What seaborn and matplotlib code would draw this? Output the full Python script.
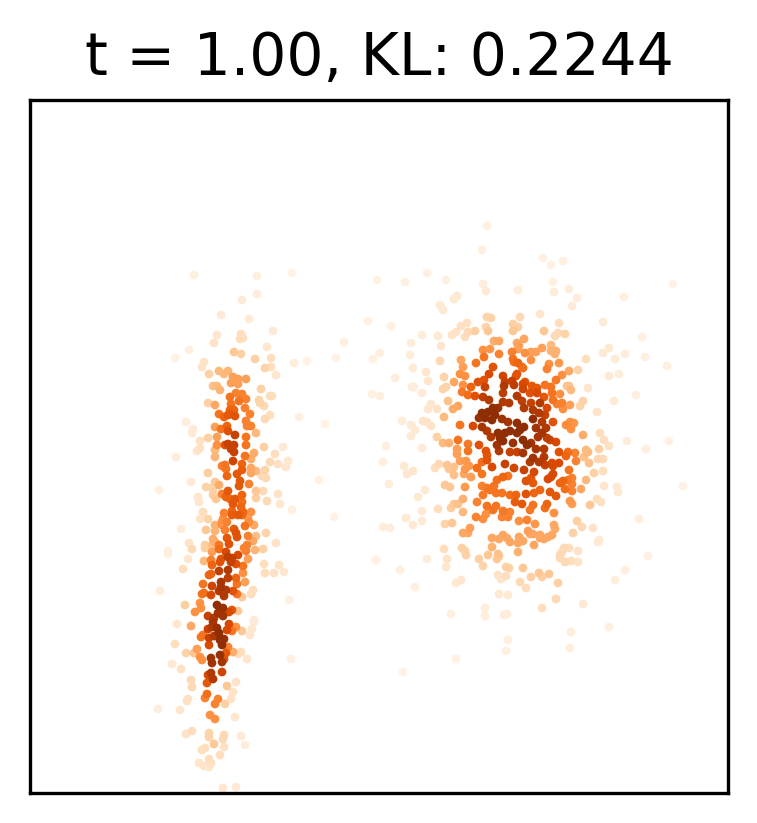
from matplotlib import pyplot as plt
import pandas as pd
import seaborn as sns

title = 't = 1.00, KL: 0.2244'

# values, one group per part of the two clusters
upper_left_x = [194,257,292,257,242,221,249,273,217,241,
    243,240,214,267,189,234,241,175,255,271,
    307,294,204,202,265,271,219,228,224,209,
    276,233,238,246,231,238,213,217,220,261,
    236,242,270,272,230,246,259,239,260,208,
    215,231,264,245,230,234,230,250,219,228,
    235,224,270,265,299,246,251,247,186,215,
    227,221,228,193,192,256,235,246,217,208,
    200]
upper_left_y = [275,276,273,294,300,315,319,331,335,334,
    338,339,343,347,350,352,354,358,359,358,
    361,363,362,367,368,367,371,371,374,374,
    375,377,379,379,383,384,386,386,390,389,
    393,394,396,396,397,399,400,401,403,403,
    405,404,406,408,410,410,414,414,414,415,
    416,417,415,419,417,421,426,426,422,427,
    426,429,431,429,433,433,435,437,437,438,
    441]
upper_left_density = [.08,.08,.05,.1,.12,.12,.12,.12,.15,.2,
    .2,.2,.17,.15,.08,.3,.27,.06,.27,.2,
    .06,.1,.17,.17,.25,.2,.35,.37,.35,.27,
    .15,.45,.45,.45,.45,.45,.33,.35,.37,.27,
    .55,.55,.2,.2,.6,.55,.25,.6,.25,.27,
    .42,.6,.22,.55,.65,.65,.7,.55,.6,.7,
    .72,.65,.2,.22,.08,.55,.55,.55,.1,.45,
    .65,.6,.72,.12,.12,.35,.8,.6,.45,.27,
    .18]

middle_left_x = [217,228,225,234,231,234,246,264,283,200,
    197,215,254,245,215,275,176,251,270,288,
    278,286,233,242,225,222,251,256,265,242,
    226,208,237,251,227,262,266,240,191,249,
    215,219,239,206,212,213,159,256,263,228,
    222,278,242,213,198,226,256,230,235,216,
    199,267,242,280,233,241,292,203,224,232,
    251,243,232,238,242,248,200,208,223,249,
    222,227,254,245,222,225,215,181,215,206,
    234,266,236,237,248,256,253,227,213,189,
    276,205,212,215,229,219,247,168,168,192,
    205,219,244,255,263,246,212,226,238,188,
    204,211,221,228,232,220,248,231,212,236,
    264,279,243,183,219,228,243,211,265,274,
    284,209,228,236,221,245,237,203,212,221,
    219,253,233,160,237,251,226,204,202,211,
    224,242,289,200,185,201,217,223,232,238,
    229,195,218,208,223,254,214]
middle_left_y = [445,444,445,445,449,452,445,447,447,448,
    451,450,453,456,457,454,457,459,462,461,
    464,467,461,464,465,466,468,471,470,470,
    469,473,474,473,476,476,478,481,482,484,
    482,485,486,487,488,490,490,491,491,491,
    494,494,495,495,497,497,498,499,499,499,
    502,501,502,504,504,507,510,512,513,511,
    512,512,515,515,515,518,519,519,519,522,
    522,522,525,526,525,530,525,529,531,530,
    529,533,533,537,536,536,541,538,539,543,
    543,545,545,542,544,545,545,551,554,549,
    548,549,548,550,549,551,552,552,555,559,
    561,560,559,557,558,562,559,562,565,564,
    564,565,566,569,571,570,573,574,573,573,
    572,575,578,578,582,582,584,584,586,587,
    591,590,591,591,594,594,590,593,594,595,
    596,597,600,603,605,608,605,608,610,611,
    612,612,613,616,616,620,618]
middle_left_density = [.5,.8,.72,.8,.8,.8,.6,.27,.13,.18,
    .16,.35,.4,.6,.37,.2,.1,.4,.22,.15,
    .18,.15,.78,.65,.6,.55,.42,.35,.25,.68,
    .6,.28,.7,.42,.65,.22,.22,.7,.12,.55,
    .3,.4,.7,.25,.25,.25,.08,.3,.22,.7,
    .55,.17,.65,.28,.16,.65,.28,.65,.7,.3,
    .15,.22,.62,.15,.7,.65,.08,.2,.55,.65,
    .5,.65,.68,.7,.65,.45,.17,.25,.5,.5,
    .5,.55,.42,.6,.5,.55,.38,.1,.37,.3,
    .7,.25,.72,.72,.55,.33,.42,.7,.4,.17,
    .17,.28,.33,.4,.72,.58,.55,.08,.08,.22,
    .28,.62,.55,.37,.27,.55,.45,.75,.75,.15,
    .35,.55,.72,.82,.8,.72,.45,.8,.65,.72,
    .2,.17,.6,.2,.82,.85,.5,.65,.2,.18,
    .15,.65,.82,.65,.88,.45,.6,.6,.78,.88,
    .85,.2,.72,.1,.6,.2,.85,.62,.6,.75,
    .85,.3,.08,.5,.28,.5,.95,.92,.7,.3,
    .75,.5,.9,.8,.9,.12,.85]

lower_left_x = [177,191,213,229,236,232,227,254,252,242,
    250,208,212,217,219,203,201,214,209,220,
    224,222,175,209,228,197,186,194,226,220,
    233,241,238,200,202,211,224,222,247,291,
    212,172,181,222,211,208,213,191,207,236,
    192,227,233,207,205,188,187,218,231,215,
    225,158,180,210,215,235,192,186,209,209,
    224,223,241,214,245,224,205,202,220,209,
    199,211,204,209,223,236]
lower_left_y = [624,626,622,624,627,631,630,622,629,631,
    635,629,627,628,633,635,637,636,638,640,
    639,645,644,645,647,649,653,653,653,655,
    652,652,654,657,660,658,659,662,659,659,
    663,664,669,672,673,675,679,680,683,682,
    687,686,692,694,698,699,701,699,699,704,
    704,709,710,715,719,717,731,734,733,737,
    735,739,736,744,745,747,748,750,755,759,
    763,763,766,767,788,787]
lower_left_density = [.15,.42,.88,.75,.5,.6,.75,.12,.15,.3,
    .15,.8,.85,.92,.95,.6,.6,.85,.8,.95,
    .92,.95,.2,.75,.55,.45,.25,.32,.7,.92,
    .4,.2,.2,.5,.5,.9,.72,.88,.15,.07,
    .9,.13,.18,.78,.85,.75,.85,.22,.7,.17,
    .22,.3,.17,.62,.55,.18,.18,.55,.17,.55,
    .27,.09,.15,.5,.5,.14,.2,.17,.25,.25,
    .22,.22,.12,.3,.1,.18,.2,.2,.2,.2,
    .16,.18,.16,.16,.15,.12]

top_a_x = [487,482,377,405,427,446,483,486,457,454,
    440,443,487,491,368,391,467,461,486,488,
    468,475,456,452,465,422,438,344,411,494,
    499,441,483,490,380,336,373,410,440,499,
    484,461,476,463,493,413,426,395,444,460,
    465,489,503,428,454,478,484,505,463,471,
    446,485,504,412,414,443]
top_a_y = [226,250,280,282,273,280,284,291,296,299,
    305,310,317,318,321,326,323,326,327,331,
    332,331,332,335,337,335,336,342,343,341,
    341,346,350,349,353,358,359,355,361,354,
    357,360,363,367,367,368,372,378,377,374,
    376,374,376,381,382,382,380,382,385,387,
    387,387,386,387,387,389]
top_a_density = [.07,.08,.06,.07,.07,.08,.1,.12,.13,.13,
    .13,.13,.25,.25,.07,.07,.18,.18,.25,.3,
    .22,.28,.17,.17,.2,.1,.13,.07,.1,.4,
    .42,.15,.5,.48,.08,.06,.07,.1,.22,.55,
    .6,.42,.6,.45,.72,.12,.15,.1,.25,.5,
    .5,.75,.78,.15,.42,.72,.72,.8,.5,.65,
    .25,.8,.85,.1,.1,.25]

top_b_x = [543,551,563,553,518,569,554,577,572,624,
    673,540,520,603,559,513,518,544,513,558,
    565,555,642,524,517,551,519,542,518,512,
    531,536,551,556,555,525,609,603,625,615,
    645,586,531,513,514,518,549,559,667,523,
    522,547,578,569,619,609,562,517,516,556,
    512,525,523,514,532,545,537,551,567,569,
    588,523]
top_b_y = [258,265,261,282,290,289,292,298,306,297,
    284,314,317,322,323,324,327,331,331,333,
    334,336,337,339,343,345,346,348,349,352,
    352,352,351,351,354,353,348,353,354,359,
    357,359,360,359,362,363,364,363,366,368,
    367,369,370,371,374,376,375,374,376,380,
    381,382,384,385,386,385,388,387,386,386,
    388,389]
top_b_density = [.07,.07,.07,.08,.1,.1,.1,.1,.12,.08,
    .06,.15,.22,.12,.2,.27,.27,.3,.3,.22,
    .25,.22,.08,.42,.42,.35,.45,.45,.45,.55,
    .45,.45,.38,.38,.38,.5,.13,.13,.1,.12,
    .08,.2,.5,.6,.62,.65,.5,.48,.08,.62,
    .62,.55,.25,.42,.1,.12,.5,.72,.72,.58,
    .8,.72,.75,.82,.7,.6,.7,.6,.32,.32,
    .15,.78]

core_a_x = [372,380,422,448,462,468,475,483,489,503,
    509,503,517,522,524,431,428,437,458,453,
    493,488,498,482,495,479,485,492,502,508,
    444,402,423,427,411,431,460,473,482,487,
    517,524,520,517,498,505,510,415,411,491,
    500,503,437,458,513,497,523,527,443,449,
    468,479,386,422,457,468,499,486,510,517,
    523,457,487,487,460,466,383,482,505,492,
    439,447,454,469,404,435,449,477,465,514,
    524,413,407,482,464,454,471,503,508,497,
    526,389,445,450,465,482,494,487,502,483,
    510,516,425,418,490,526,496,463,477,515,
    522,454,451,458,487,496,438,422,493,503,
    510,463,486,476,502,508,406,483,519,527,
    422,445,452,413,383,390,470]
core_a_y = [394,396,393,401,392,395,396,397,400,393,
    403,402,396,401,408,404,409,409,406,409,
    408,412,408,413,415,418,418,420,419,422,
    417,421,421,422,425,426,425,426,427,431,
    423,427,430,433,433,433,431,430,436,437,
    438,441,437,440,443,445,440,445,443,443,
    444,445,446,448,449,451,451,451,452,452,
    453,454,455,460,461,461,462,462,464,467,
    464,465,467,466,466,468,469,468,469,468,
    470,471,474,474,474,475,477,477,476,480,
    481,484,485,487,487,486,486,488,493,495,
    495,495,490,497,490,494,493,499,502,502,
    504,504,508,504,506,506,509,511,510,511,
    512,512,514,517,517,517,518,519,521,520,
    521,524,523,525,527,528,528]
core_a_density = [.07,.08,.12,.32,.58,.62,.72,.82,.85,.82,
    .85,.85,.85,.82,.85,.15,.15,.17,.42,.4,
    .95,.95,.92,.95,.95,.92,.95,.95,.9,.88,
    .35,.1,.17,.17,.13,.17,.6,.75,.88,.85,
    .95,.95,.95,.95,.95,.95,.95,.13,.13,.85,
    .95,.95,.27,.6,.92,.9,.95,.95,.35,.38,
    .58,.72,.08,.12,.45,.6,.85,.72,.8,.8,
    .88,.45,.7,.72,.45,.48,.09,.62,.8,.75,
    .22,.3,.32,.48,.13,.2,.3,.62,.48,.78,
    .8,.15,.15,.6,.42,.33,.45,.65,.6,.62,
    .72,.1,.3,.3,.47,.55,.6,.58,.6,.58,
    .62,.65,.13,.13,.6,.72,.6,.38,.55,.68,
    .7,.3,.28,.32,.6,.6,.2,.13,.6,.58,
    .55,.35,.5,.55,.55,.55,.13,.5,.5,.55,
    .12,.25,.3,.13,.1,.1,.45]

core_b_x = [636,614,571,552,560,530,537,544,553,557,
    562,563,570,583,580,597,540,531,547,533,
    539,533,545,542,553,566,570,574,571,536,
    546,542,538,547,550,556,583,600,604,627,
    669,609,646,599,531,536,544,559,568,566,
    575,586,588,584,589,598,603,533,544,539,
    530,545,552,559,553,576,569,603,594,534,
    531,553,551,548,572,568,563,560,586,572,
    533,604,617,618,683,581,565,572,540,534,
    550,556,597,601,570,572,590,533,547,545,
    530,554,639,577,535,554,582,593,555]
core_b_y = [395,401,390,393,394,393,393,397,400,404,
    403,409,405,401,406,412,403,403,408,410,
    413,419,415,422,422,425,422,423,429,428,
    428,433,437,438,440,442,435,433,440,441,
    441,446,449,449,443,449,449,452,452,456,
    453,450,452,457,463,459,459,458,457,462,
    462,465,463,463,466,461,470,471,473,472,
    478,474,477,479,478,480,481,483,480,484,
    483,486,487,492,486,489,489,491,490,493,
    492,496,499,502,501,504,505,505,504,508,
    510,513,519,521,524,525,527,528,529]
core_b_density = [.08,.12,.35,.6,.5,.72,.75,.7,.6,.55,
    .55,.5,.45,.25,.25,.17,.85,.8,.75,.85,
    .85,.95,.8,.85,.72,.52,.5,.48,.5,.9,
    .85,.88,.88,.82,.78,.75,.4,.2,.2,.1,
    .07,.18,.09,.27,.9,.88,.85,.72,.62,.65,
    .55,.35,.35,.33,.33,.23,.22,.9,.85,.85,
    .85,.8,.75,.75,.75,.55,.6,.2,.27,.75,
    .7,.75,.75,.75,.55,.58,.65,.65,.35,.55,
    .7,.15,.13,.13,.06,.42,.62,.55,.65,.65,
    .7,.7,.2,.18,.48,.45,.3,.6,.65,.62,
    .58,.5,.09,.27,.48,.42,.22,.17,.4]

bottom_x = [573,463,468,492,499,503,507,510,528,530,
    533,540,519,523,518,540,544,548,552,534,
    492,518,444,462,465,466,488,498,499,497,
    479,483,564,569,562,560,560,565,571,578,
    578,599,598,648,625,615,376,427,447,446,
    400,415,461,456,506,509,523,498,506,501,
    531,539,542,549,520,526,558,499,508,556,
    583,542,485,451,485,504,507,609,571,508,
    506,570,456,403,325,319,334]
bottom_y = [533,533,533,538,539,535,538,542,531,534,
    534,535,537,541,543,538,539,537,535,545,
    547,552,549,548,551,555,555,554,556,559,
    559,566,548,548,552,555,558,562,561,562,
    551,540,542,556,570,580,560,559,559,567,
    570,587,580,583,567,568,568,575,576,579,
    577,573,577,574,582,588,583,594,595,599,
    604,608,608,614,616,615,614,627,632,640,
    651,648,659,672,424,480,517]
bottom_density = [.27,.42,.42,.42,.42,.42,.42,.42,.45,.42,
    .42,.42,.42,.42,.42,.42,.42,.42,.42,.42,
    .38,.38,.2,.27,.27,.27,.3,.32,.3,.3,
    .27,.25,.22,.2,.22,.22,.22,.22,.2,.17,
    .17,.13,.13,.07,.09,.1,.07,.1,.17,.15,
    .08,.08,.15,.13,.25,.27,.3,.17,.2,.17,
    .27,.3,.27,.3,.22,.2,.27,.13,.13,.22,
    .13,.2,.1,.08,.09,.1,.1,.08,.1,.08,
    .08,.09,.07,.06,.06,.06,.06]

groups = [
    (upper_left_x, upper_left_y, upper_left_density),
    (middle_left_x, middle_left_y, middle_left_density),
    (lower_left_x, lower_left_y, lower_left_density),
    (top_a_x, top_a_y, top_a_density),
    (top_b_x, top_b_y, top_b_density),
    (core_a_x, core_a_y, core_a_density),
    (core_b_x, core_b_y, core_b_density),
    (bottom_x, bottom_y, bottom_density),
]
frames = [pd.DataFrame({'x': x, 'y': y, 'density': d}) for x, y, d in groups]
# densest points go on top
data = pd.concat(frames, ignore_index=True).sort_values('density')

fig, ax = plt.subplots(figsize=(757 / 300, 823 / 300), dpi=300)
fig.subplots_adjust(left=30 / 757, right=728 / 757, top=1 - 100 / 823, bottom=1 - 793 / 823)

# palette stops a bit short of white so the faint points match; norm widened at the low end
sns.scatterplot(data=data, x='x', y='y', hue='density', palette='Oranges',
                hue_norm=(0.03, 1), s=4.4, linewidth=0, legend=False, ax=ax)

ax.set_xlim(30, 728)
ax.set_ylim(793, 100)
ax.set_xticks([])
ax.set_yticks([])
ax.set_xlabel('')
ax.set_ylabel('')
ax.set_title(title, fontsize=14)

fig.savefig('out.png', dpi=300)
plt.close()
